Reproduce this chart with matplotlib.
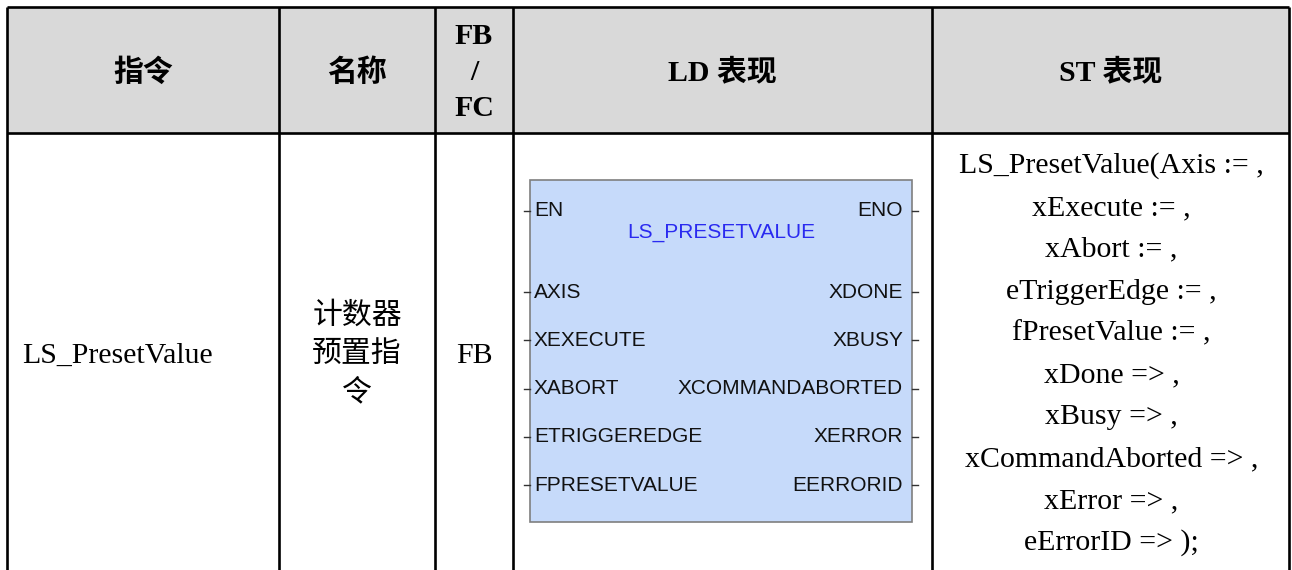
import matplotlib.pyplot as plt
from matplotlib.patches import Rectangle

# table content
headers = ['指令', '名称', 'FB\n/\nFC', 'LD 表现', 'ST 表现']
instr = 'LS_PresetValue'
name_lines = ['计数器', '预置指', '令']
kind = 'FB'

fb_title = 'LS_PRESETVALUE'
fb_inputs = ['EN', 'AXIS', 'XEXECUTE', 'XABORT', 'ETRIGGEREDGE', 'FPRESETVALUE']
fb_outputs = ['ENO', 'XDONE', 'XBUSY', 'XCOMMANDABORTED', 'XERROR', 'EERRORID']

st_lines = ['LS_PresetValue(Axis := ,', 'xExecute := ,', 'xAbort := ,',
            'eTriggerEdge := ,', 'fPresetValue := ,', 'xDone => ,',
            'xBusy => ,', 'xCommandAborted => ,', 'xError => ,', 'eErrorID => );']

W, H = 1292, 570
col_x = [7, 279, 435, 513, 932, 1289]
top, head_bot = 7, 133

serif = ['Liberation Serif', 'Noto Sans CJK SC']
cjk = ['Noto Sans CJK SC', 'DejaVu Sans']
sans = ['Liberation Sans', 'DejaVu Sans']
FS = 21.5
PIN_FS = 15

fig = plt.figure(figsize=(W / 100, H / 100), dpi=100)
ax = fig.add_axes([0, 0, 1, 1])
ax.set_xlim(0, W)
ax.set_ylim(H, 0)
ax.axis('off')

# header background
ax.add_patch(Rectangle((col_x[0], top), col_x[-1] - col_x[0], head_bot - top,
                       fc='#D9D9D9', ec='none', zorder=0))

# grid lines
lw = 1.9
for x in col_x:
    ax.plot([x, x], [top, H], color='black', lw=lw, solid_capstyle='butt', zorder=3)
for y in [top, head_bot]:
    ax.plot([col_x[0], col_x[-1]], [y, y], color='black', lw=lw, solid_capstyle='butt', zorder=3)

centers = [(col_x[i] + col_x[i + 1]) / 2 for i in range(5)]

# header texts
ax.text(centers[0], 72, headers[0], family=cjk, weight='bold', fontsize=FS, ha='center', va='center')
ax.text(centers[1], 72, headers[1], family=cjk, weight='bold', fontsize=FS, ha='center', va='center')
for txt, y in zip(headers[2].split('\n'), [36, 72, 108]):
    ax.text(centers[2], y, txt, family=serif, weight='bold', fontsize=FS, ha='center', va='center')
ax.text(centers[3], 72, headers[3], family=serif, weight='bold', fontsize=FS, ha='center', va='center')
ax.text(centers[4], 72, headers[4], family=serif, weight='bold', fontsize=FS, ha='center', va='center')

# body row
ax.text(22, 363, instr, family=serif, fontsize=FS, ha='left', va='baseline')
for txt, y in zip(name_lines, [315, 353, 392]):
    ax.text(centers[1], y, txt, family=cjk, fontsize=FS, ha='center', va='center')
ax.text(centers[2], 363, kind, family=serif, fontsize=FS, ha='center', va='baseline')

# function block drawing
bx0, bx1, by0, by1 = 530, 912, 180, 522
ax.add_patch(Rectangle((bx0, by0), bx1 - bx0, by1 - by0, fc='#C6DAFA', ec='#7F7F7F', lw=1.2, zorder=1))
ax.text((bx0 + bx1) / 2, 232, fb_title, family=sans, fontsize=PIN_FS, color='#2A2AF0',
        ha='center', va='center', zorder=2)
pin_y = [211] + [292 + 48.3 * i for i in range(5)]
for name, y in zip(fb_inputs, pin_y):
    ax.plot([524, bx0], [y, y], color='#333333', lw=1.0, zorder=2)
    ax.text(bx0 + 4, y, name, family=sans, fontsize=PIN_FS, color='#111111', ha='left', va='center', zorder=2)
for name, y in zip(fb_outputs, pin_y):
    ax.plot([bx1, bx1 + 6], [y, y], color='#333333', lw=1.0, zorder=2)
    ax.text(bx1 - 9, y, name, family=sans, fontsize=PIN_FS, color='#111111', ha='right', va='center', zorder=2)

# ST code lines
for i, line in enumerate(st_lines):
    ax.text(centers[4] + 1, 173 + 41.9 * i, line, family=serif, fontsize=FS, ha='center', va='baseline')

fig.savefig('out.png', dpi=100)
